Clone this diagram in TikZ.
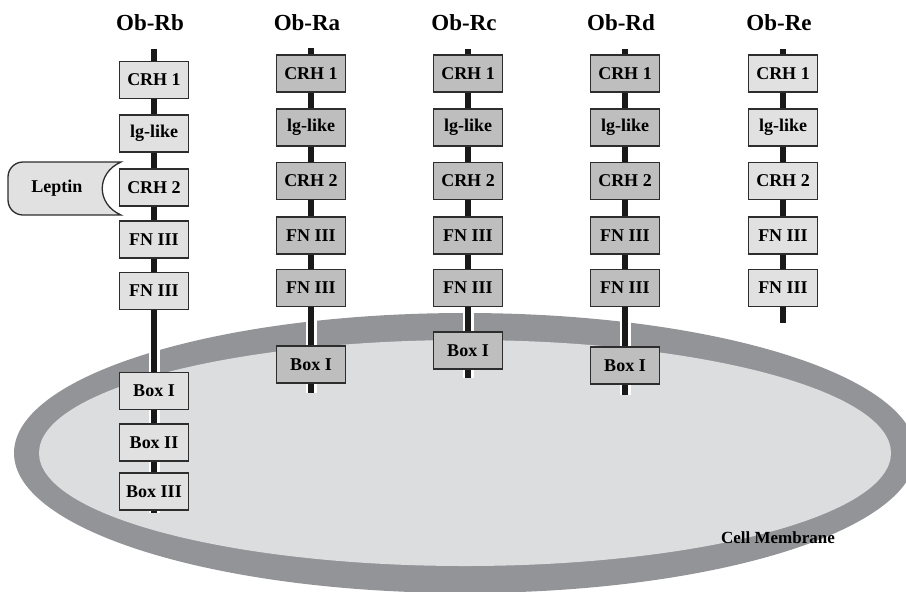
\documentclass[tikz,border=0pt]{standalone}
\usepackage{fontspec}
\setmainfont{Liberation Serif}
\definecolor{memband}{RGB}{147,148,152}
\definecolor{meminner}{RGB}{220,221,223}
\definecolor{boxlight}{RGB}{225,225,225}
\definecolor{boxdark}{RGB}{190,190,190}
\definecolor{boxline}{RGB}{45,45,45}
\definecolor{spinecol}{RGB}{25,25,25}
\tikzset{
  dom/.style={draw=boxline, line width=0.65pt, minimum width=34.5pt, minimum height=18.5pt,
    inner sep=0pt, font=\fontsize{9}{10}\selectfont\bfseries},
  domlight/.style={dom, fill=boxlight},
  domdark/.style={dom, fill=boxdark},
  title/.style={font=\fontsize{11.5}{13}\selectfont\bfseries},
  spinewhite/.style={white, line width=5.5pt},
  spineblack/.style={spinecol, line width=3pt}
}
\begin{document}
\begin{tikzpicture}[x=0.5pt,y=-0.5pt]
\clip (0,0) rectangle (906,591);

% membrane
\fill[memband] (465,453) ellipse [x radius=225.5pt, y radius=70pt];
\fill[meminner] (465,453) ellipse [x radius=213pt, y radius=56.5pt];
\node[font=\fontsize{8.5}{10}\selectfont\bfseries] (cm) at (778,538) {Cell Membrane};

% spines
\coordinate (rbtop) at (154,49);  \coordinate (rbbot) at (154,513);
\coordinate (ratop) at (311,48);  \coordinate (rabot) at (311,393);
\coordinate (rctop) at (468,49);  \coordinate (rcbot) at (468,378);
\coordinate (rdtop) at (625,49);  \coordinate (rdbot) at (625,395);
\coordinate (retop) at (783,49);  \coordinate (rebot) at (783,323);
\draw[spinewhite] (rbtop) -- (rbbot);
\draw[spinewhite] (ratop) -- (rabot);
\draw[spinewhite] (rctop) -- (rcbot);
\draw[spinewhite] (rdtop) -- (rdbot);
\draw[spinewhite] (retop) -- (rebot);
\draw[spineblack] (rbtop) -- (rbbot);
\draw[spineblack] (ratop) -- (rabot);
\draw[spineblack] (rctop) -- (rcbot);
\draw[spineblack] (rdtop) -- (rdbot);
\draw[spineblack] (retop) -- (rebot);

% titles
\node[title] (tb) at (150,23) {Ob-Rb};
\node[title] (ta) at (307,23) {Ob-Ra};
\node[title] (tc) at (464,23) {Ob-Rc};
\node[title] (td) at (621,23) {Ob-Rd};
\node[title] (te) at (779,23) {Ob-Re};

% Ob-Rb
\node[domlight] (rb1) at (154,80) {CRH 1};
\node[domlight] (rb2) at (154,133.5) {lg-like};
\node[domlight] (rb3) at (154,187.5) {CRH 2};
\node[domlight] (rb4) at (154,239.5) {FN III};
\node[domlight] (rb5) at (154,291) {FN III};
\node[domlight] (rb6) at (154,391) {Box I};
\node[domlight] (rb7) at (154,442.5) {Box II};
\node[domlight] (rb8) at (154,491.5) {Box III};

% Ob-Ra
\node[domdark] (ra1) at (311,73.5) {CRH 1};
\node[domdark] (ra2) at (311,127.5) {lg-like};
\node[domdark] (ra3) at (311,181) {CRH 2};
\node[domdark] (ra4) at (311,235.5) {FN III};
\node[domdark] (ra5) at (311,288) {FN III};
\node[domdark] (ra6) at (311,364.5) {Box I};

% Ob-Rc
\node[domdark] (rc1) at (468,73.5) {CRH 1};
\node[domdark] (rc2) at (468,127.5) {lg-like};
\node[domdark] (rc3) at (468,181) {CRH 2};
\node[domdark] (rc4) at (468,235.5) {FN III};
\node[domdark] (rc5) at (468,288) {FN III};
\node[domdark] (rc6) at (468,350.5) {Box I};

% Ob-Rd
\node[domdark] (rd1) at (625,73.5) {CRH 1};
\node[domdark] (rd2) at (625,127.5) {lg-like};
\node[domdark] (rd3) at (625,181) {CRH 2};
\node[domdark] (rd4) at (625,235.5) {FN III};
\node[domdark] (rd5) at (625,288) {FN III};
\node[domdark] (rd6) at (625,365.5) {Box I};

% Ob-Re
\node[domlight] (re1) at (783,73.5) {CRH 1};
\node[domlight] (re2) at (783,127.5) {lg-like};
\node[domlight] (re3) at (783,181) {CRH 2};
\node[domlight] (re4) at (783,235.5) {FN III};
\node[domlight] (re5) at (783,288) {FN III};

% leptin
\filldraw[fill=boxlight, draw=boxline, line width=0.65pt]
  (121,162) [rounded corners=7.5pt] -- (8,162) -- (8,215) [sharp corners] -- (121,215)
  .. controls (96,204) and (96,173) .. (121,162) -- cycle;
\node[font=\fontsize{9}{10}\selectfont\bfseries] (leptin) at (57,188) {Leptin};
\end{tikzpicture}
\end{document}
